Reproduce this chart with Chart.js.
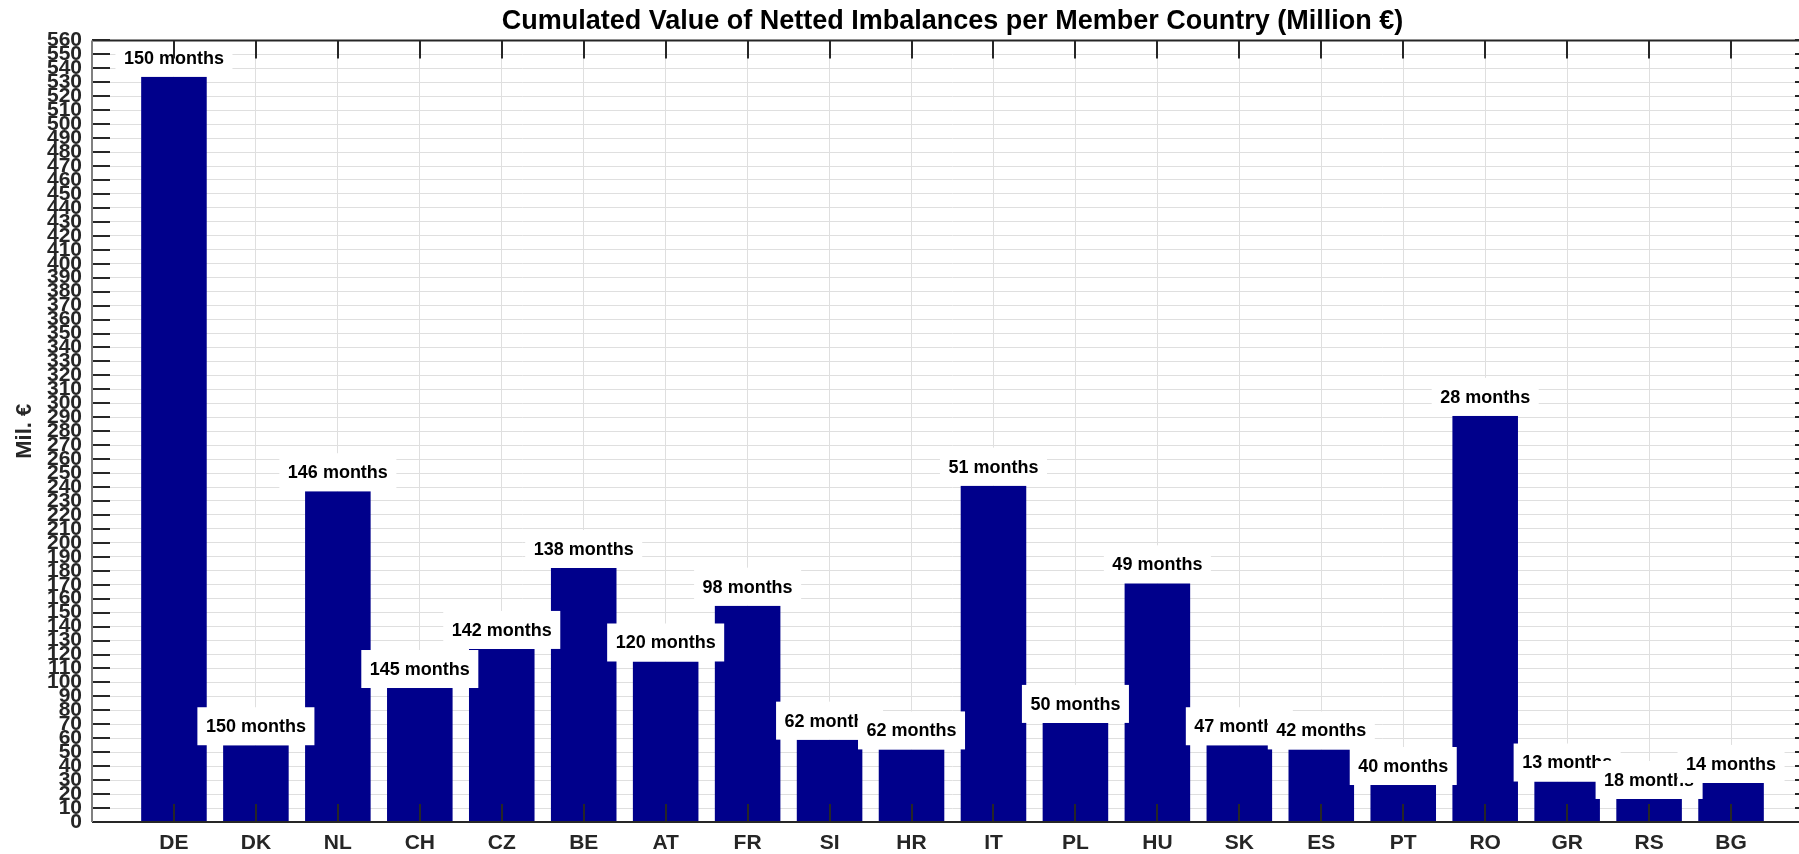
<!DOCTYPE html>
<html>
<head>
<meta charset="utf-8">
<script src="https://cdn.jsdelivr.net/npm/chart.js@4/dist/chart.umd.min.js"></script>
<style>
  html, body { margin: 0; padding: 0; overflow: hidden; background: #fff; }
</style>
</head>
<body>
<canvas id="myChart" width="1905" height="854"></canvas>
<script>
const countries = ['DE', 'DK', 'NL', 'CH', 'CZ', 'BE', 'AT', 'FR', 'SI', 'HR', 'IT', 'PL', 'HU', 'SK', 'ES', 'PT', 'RO', 'GR', 'RS', 'BG']
const netValues = [534, 55, 237, 96, 124, 182, 115, 155, 59, 52, 241, 71, 171, 55, 52, 26.5, 291, 29, 16.5, 28]
const monthsCount = [150, 150, 146, 145, 142, 138, 120, 98, 62, 62, 51, 50, 49, 47, 42, 40, 28, 13, 18, 14]
const yMax = 560
const yStep = 10

const barColor = 'rgb(0, 0, 139)'
const axisColor = '#262626'
const gridColor = '#dfdfdf'
const fontFamily = '"Liberation Sans", Arial, Helvetica, sans-serif'

Chart.defaults.font.family = fontFamily

// countries sit at 1..20 on a 0..21 axis, like the original figure
const barPoints = netValues.map((v, i) => ({ x: i + 1, y: v }))

// white boxes with "xx months" on top of every bar
const monthLabels = {
    id: 'monthLabels',
    afterDatasetsDraw(chart) {
        const ctx = chart.ctx
        const bars = chart.getDatasetMeta(0).data
        ctx.save()
        ctx.font = 'bold 18px ' + fontFamily
        ctx.textAlign = 'center'
        ctx.textBaseline = 'middle'
        bars.forEach((bar, i) => {
            const text = monthsCount[i] + ' months'
            const w = ctx.measureText(text).width + 17
            const h = 38
            ctx.fillStyle = '#fff'
            ctx.fillRect(bar.x - w / 2, bar.y - h, w, h)
            ctx.fillStyle = '#000'
            ctx.fillText(text, bar.x, bar.y - h / 2 + 1)
        })
        ctx.restore()
    }
}

// axes box and inward tick marks, drawn on top of everything
const axesBox = {
    id: 'axesBox',
    afterDraw(chart) {
        const { ctx, chartArea: a, scales: { x, y } } = chart
        const len = 18
        ctx.save()
        ctx.strokeStyle = axisColor
        ctx.lineWidth = 2
        ctx.beginPath()
        y.ticks.forEach(t => {
            const py = Math.round(y.getPixelForValue(t.value))
            ctx.moveTo(a.left, py)
            ctx.lineTo(a.left + len, py)
            ctx.moveTo(a.right, py)
            ctx.lineTo(a.right - len, py)
        })
        countries.forEach((c, i) => {
            const px = Math.round(x.getPixelForValue(i + 1))
            ctx.moveTo(px, a.bottom)
            ctx.lineTo(px, a.bottom - len)
            ctx.moveTo(px, a.top)
            ctx.lineTo(px, a.top + len)
        })
        ctx.stroke()
        ctx.beginPath()
        ctx.moveTo(a.left, a.top)
        ctx.lineTo(a.right, a.top)
        ctx.lineTo(a.right, a.bottom)
        ctx.lineTo(a.left, a.bottom)
        ctx.stroke()
        ctx.strokeStyle = '#808080'
        ctx.beginPath()
        ctx.moveTo(a.left, a.top)
        ctx.lineTo(a.left, a.bottom)
        ctx.stroke()
        ctx.restore()
    }
}

const ctx = document.getElementById('myChart').getContext('2d')
new Chart(ctx, {
    type: 'bar',
    data: {
        datasets: [{
            label: 'Mil. €',
            data: barPoints,
            backgroundColor: barColor,
            barPercentage: 0.8,
            categoryPercentage: 1
        }]
    },
    options: {
        responsive: false,
        animation: false,
        layout: { padding: 0 },
        plugins: {
            legend: { display: false },
            tooltip: { enabled: false },
            title: {
                display: true,
                text: 'Cumulated Value of Netted Imbalances per Member Country (Million €)',
                color: '#000',
                font: { size: 27, weight: 'bold' },
                padding: { top: 5, bottom: 3 }
            }
        },
        scales: {
            x: {
                type: 'linear',
                min: 0,
                max: countries.length + 1,
                offset: false,
                grid: { offset: false, color: gridColor, drawTicks: false },
                border: { display: false },
                ticks: {
                    stepSize: 1,
                    autoSkip: false,
                    maxRotation: 0,
                    color: axisColor,
                    font: { size: 21, weight: 'bold' },
                    padding: 9,
                    callback: v => countries[v - 1] || ''
                },
                afterFit: s => { s.height = 32 }
            },
            y: {
                min: 0,
                max: yMax,
                grid: { color: gridColor, drawTicks: false },
                border: { display: false },
                ticks: {
                    stepSize: yStep,
                    maxTicksLimit: 100,
                    autoSkip: false,
                    color: axisColor,
                    font: { size: 21, weight: 'bold' },
                    padding: 10
                },
                title: {
                    display: true,
                    text: 'Mil. €',
                    color: axisColor,
                    font: { size: 22, weight: 'bold' },
                    padding: { top: 12, bottom: 0 }
                },
                afterFit: s => { s.width = 92 }
            },
            yRight: {
                position: 'right',
                display: true,
                grid: { display: false, drawTicks: false },
                border: { display: false },
                ticks: { display: false },
                afterFit: s => { s.width = 92 }
            }
        }
    },
    plugins: [monthLabels, axesBox]
})
</script>
</body>
</html>
